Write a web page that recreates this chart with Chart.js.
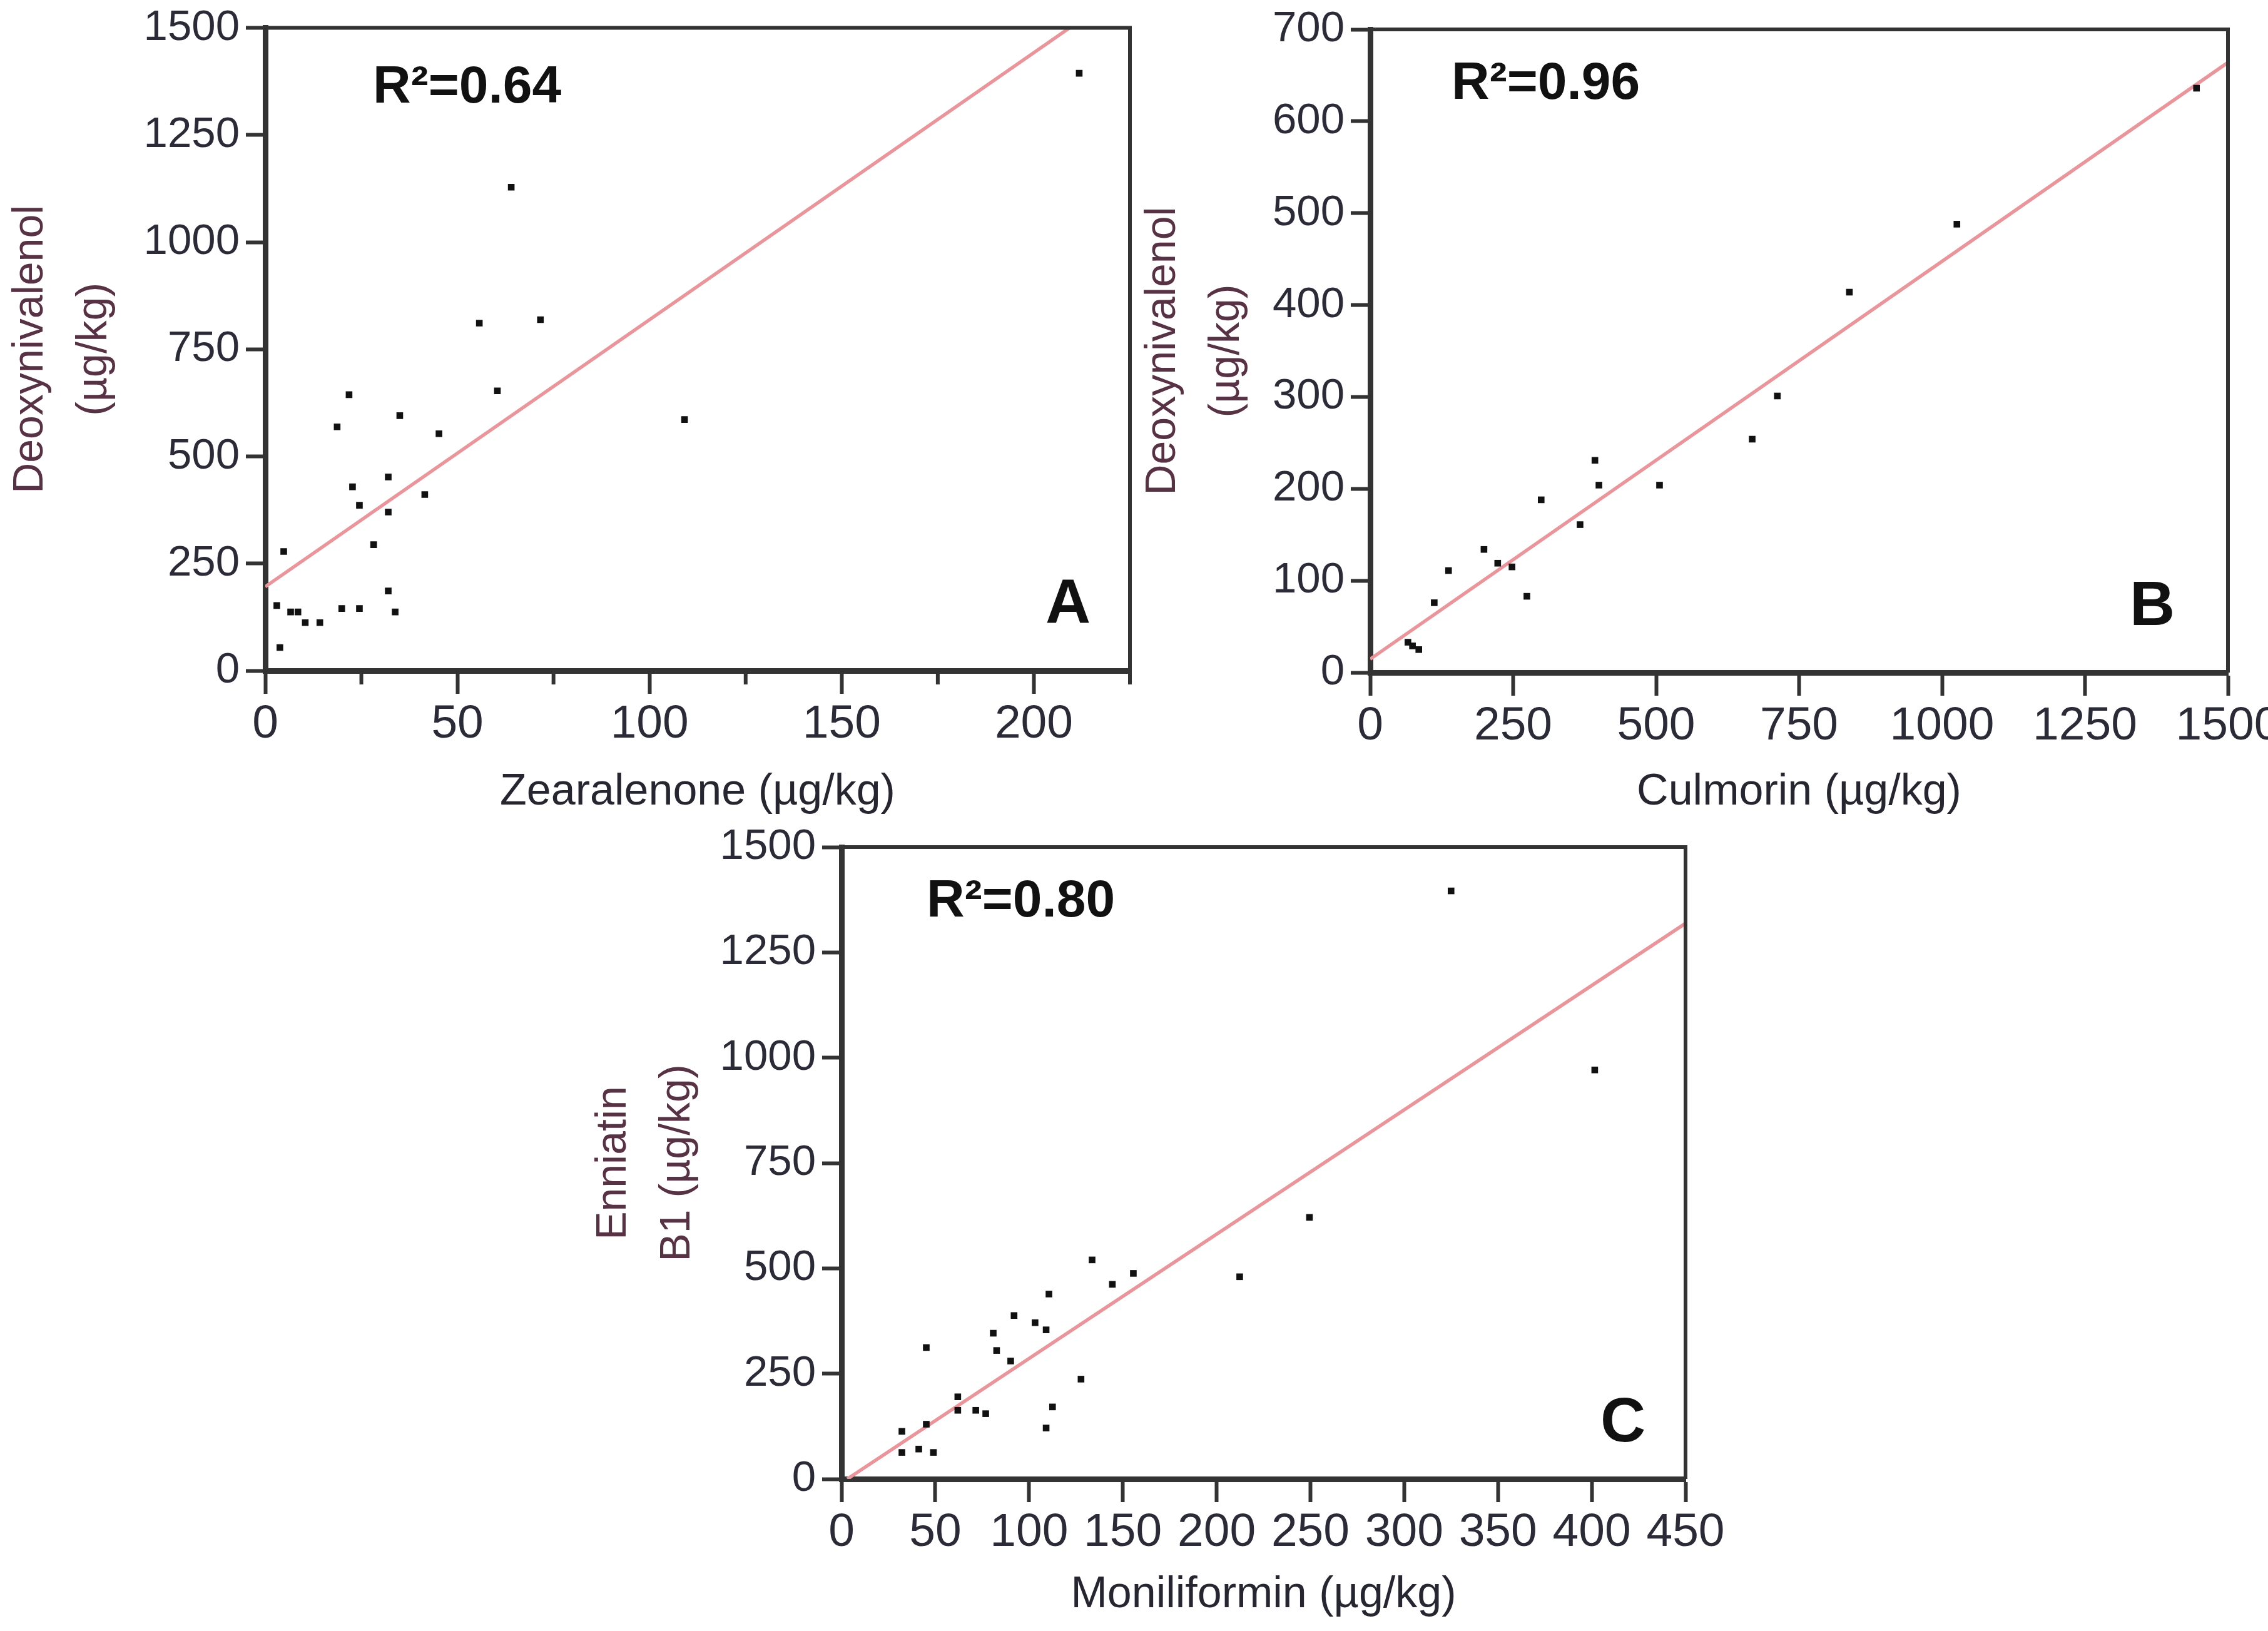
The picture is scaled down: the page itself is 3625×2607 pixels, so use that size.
<!DOCTYPE html>
<html>
<head>
<meta charset="utf-8">
<script src="https://cdn.jsdelivr.net/npm/chart.js@4.4.1/dist/chart.umd.min.js"></script>
<style>
  html, body { margin: 0; padding: 0; background: #fff; overflow: hidden; }
  #page { position: relative; width: 3625px; height: 2607px; overflow: hidden; background: #fff; }
  #page canvas { position: absolute; }
</style>
</head>
<body>
<div id="page">
  <canvas id="chartA" width="1850" height="1330" style="left:-2px; top:0px;"></canvas>
  <canvas id="chartB" width="1900" height="1330" style="left:1808px; top:0px;"></canvas>
  <canvas id="chartC" width="1870" height="1307" style="left:930px; top:1300px;"></canvas>
</div>
<script>
// Panel A: zearalenone vs deoxynivalenol
const zeaA = [211.8, 64.0, 55.7, 71.6, 60.4, 21.8, 18.7, 35.0, 45.2, 109.1, 32.0, 22.7, 24.5, 41.5,
              32.0, 28.2, 4.8, 32.0, 3.0, 6.6, 8.5, 19.9, 24.5, 33.8, 10.4, 14.2, 3.8];
const donA = [1394, 1128, 811, 819, 653, 644, 569, 595, 553, 586, 452, 429, 386, 411,
              370, 294, 278, 186, 152, 137, 137, 145, 145, 137, 112, 112, 54];
const fitAx = [0, 209.3];
const fitAy = [196, 1500];

// Panel B: culmorin vs deoxynivalenol
const culB = [1445, 1026, 838, 712, 668, 393, 400, 506, 299, 367, 199, 223, 248, 137, 274, 112, 66, 74, 85];
const donB = [636, 488, 414, 301, 254, 231, 204, 204, 188, 161, 134, 119, 115, 111, 83, 76, 33, 29, 25];
const fitBx = [0, 1500];
const fitBy = [14.6, 664];

// Panel C: moniliformin vs enniatin B1
const monC = [325, 401.6, 249.5, 212.3, 133.6, 155.6, 144.4, 110.6, 92.0, 103.2, 109.1, 80.9, 82.7, 90.2,
              45.2, 127.7, 62.0, 62.0, 71.6, 76.9, 112.5, 109.1, 45.2, 32.2, 32.2, 41.2, 49.0];
const ennC = [1396, 971, 621, 480, 520, 488, 462, 439, 388, 371, 354, 346, 305, 280,
              312, 237, 195, 163, 163, 155, 171, 121, 130, 113, 63, 71, 63];
const fitCx = [3.1, 450];
const fitCy = [0, 1319];

const r2Labels = ['R\u00B2=0.64', 'R\u00B2=0.96', 'R\u00B2=0.80'];
const panelLetters = ['A', 'B', 'C'];

const FONT = '"Liberation Sans", Arial, sans-serif';
const NARROW = '"Liberation Sans Narrow", "Arial Narrow", "Liberation Sans", Arial, sans-serif';
const AXIS_COLOR = '#333333';

const toPoints = (xs, ys) => xs.map((x, i) => ({ x: x, y: ys[i] }));

// frame, minor ticks, R² and panel letter
const panelDecor = {
    id: 'panelDecor',
    afterDraw(chart, args, opts) {
        const { ctx, chartArea: a } = chart;
        ctx.save();
        ctx.strokeStyle = AXIS_COLOR;
        ctx.lineWidth = 6;
        ctx.beginPath();
        ctx.moveTo(a.left, a.top);
        ctx.lineTo(a.right, a.top);
        ctx.lineTo(a.right, a.bottom);
        ctx.stroke();

        if (opts.minorStep) {
            const xs = chart.scales.x;
            ctx.lineWidth = 6;
            ctx.beginPath();
            for (let v = xs.min + opts.minorStep; v <= xs.max + 0.001; v += 2 * opts.minorStep) {
                const px = xs.getPixelForValue(v);
                ctx.moveTo(px, a.bottom);
                ctx.lineTo(px, a.bottom + 22);
            }
            ctx.stroke();
        }

        ctx.fillStyle = '#111';
        ctx.textBaseline = 'alphabetic';
        ctx.textAlign = 'left';
        ctx.font = 'bold 84px ' + FONT;
        ctx.fillText(opts.r2, a.left + opts.r2Dx, a.top + opts.r2Dy);
        ctx.textAlign = 'center';
        ctx.font = 'bold 100px ' + FONT;
        ctx.fillText(opts.letter, a.right - opts.letterDx, a.bottom - opts.letterDy);
        ctx.restore();
    }
};

function makePanel(id, p) {
    new Chart(document.getElementById(id), {
        type: 'scatter',
        data: {
            datasets: [
                {
                    data: toPoints(p.xs, p.ys),
                    pointStyle: 'rect',
                    pointRadius: 7.5,
                    pointBackgroundColor: '#111',
                    pointBorderWidth: 0,
                },
                {
                    data: toPoints(p.fitX, p.fitY),
                    showLine: true,
                    borderColor: '#e8959b',
                    borderWidth: 5.5,
                    pointRadius: 0,
                },
            ],
        },
        options: {
            responsive: false,
            animation: false,
            devicePixelRatio: 1,
            layout: { padding: { top: p.padTop, right: p.padRight, left: 0, bottom: 0 } },
            plugins: {
                legend: { display: false },
                tooltip: { enabled: false },
                panelDecor: {
                    r2: p.r2, letter: p.letter, minorStep: p.minorStep,
                    r2Dx: p.r2Dx, r2Dy: p.r2Dy, letterDx: p.letterDx, letterDy: p.letterDy,
                },
            },
            scales: {
                x: {
                    type: 'linear',
                    min: 0,
                    max: p.xMax,
                    afterFit: (scale) => { scale.height = p.xAxisHeight; },
                    border: { color: AXIS_COLOR, width: 9 },
                    grid: { drawOnChartArea: false, drawTicks: true, tickLength: 37, tickWidth: 6, tickColor: AXIS_COLOR },
                    ticks: {
                        stepSize: p.xStep,
                        includeBounds: false,
                        padding: 12,
                        maxRotation: 0,
                        autoSkip: false,
                        color: '#2b2b38',
                        font: { family: NARROW, size: 75, lineHeight: 1 },
                        callback: (v) => String(v),
                    },
                    title: {
                        display: true,
                        text: p.xTitle,
                        color: '#262630',
                        font: { family: FONT, size: 70, lineHeight: 1.2 },
                        padding: { top: 0, bottom: p.xTitlePad },
                    },
                },
                y: {
                    type: 'linear',
                    min: 0,
                    max: p.yMax,
                    afterFit: (scale) => { scale.width = p.yAxisWidth; },
                    border: { color: AXIS_COLOR, width: 9 },
                    grid: { drawOnChartArea: false, drawTicks: true, tickLength: 31, tickWidth: 6, tickColor: AXIS_COLOR },
                    ticks: {
                        stepSize: p.yStep,
                        padding: 10,
                        autoSkip: false,
                        color: '#2b2b38',
                        font: { family: FONT, size: 69, lineHeight: 1 },
                        callback: (v) => String(v),
                    },
                    title: {
                        display: true,
                        text: p.yTitle,
                        color: '#573144',
                        font: { family: FONT, size: 68, lineHeight: 1.5 },
                        padding: { top: 0, bottom: 0 },
                    },
                },
            },
        },
        plugins: [panelDecor],
    });
}

makePanel('chartA', {
    xs: zeaA, ys: donA, fitX: fitAx, fitY: fitAy,
    xMax: 225, xStep: 50, minorStep: 25, yMax: 1500, yStep: 250,
    xTitle: 'Zearalenone (\u00B5g/kg)', yTitle: ['Deoxynivalenol', '(\u00B5g/kg)'],
    r2: r2Labels[0], letter: panelLetters[0],
    padTop: 35, padRight: 42, yAxisWidth: 426, xAxisHeight: 258, xTitlePad: 21,
    r2Dx: 172, r2Dy: 119, letterDx: 99, letterDy: 76,
});

makePanel('chartB', {
    xs: culB, ys: donB, fitX: fitBx, fitY: fitBy,
    xMax: 1500, xStep: 250, minorStep: 0, yMax: 700, yStep: 100,
    xTitle: 'Culmorin (\u00B5g/kg)', yTitle: ['Deoxynivalenol', '(\u00B5g/kg)'],
    r2: r2Labels[1], letter: panelLetters[1],
    padTop: 47, padRight: 147, yAxisWidth: 382, xAxisHeight: 255, xTitlePad: 21,
    r2Dx: 130, r2Dy: 111, letterDx: 121, letterDy: 76,
});

makePanel('chartC', {
    xs: monC, ys: ennC, fitX: fitCx, fitY: fitCy,
    xMax: 450, xStep: 50, minorStep: 0, yMax: 1500, yStep: 250,
    xTitle: 'Moniliformin (\u00B5g/kg)', yTitle: ['Enniatin', 'B1 (\u00B5g/kg)'],
    r2: r2Labels[2], letter: panelLetters[2],
    padTop: 54, padRight: 106, yAxisWidth: 415, xAxisHeight: 243, xTitlePad: 15,
    r2Dx: 136, r2Dy: 111, letterDx: 100, letterDy: 60,
});
</script>
</body>
</html>
